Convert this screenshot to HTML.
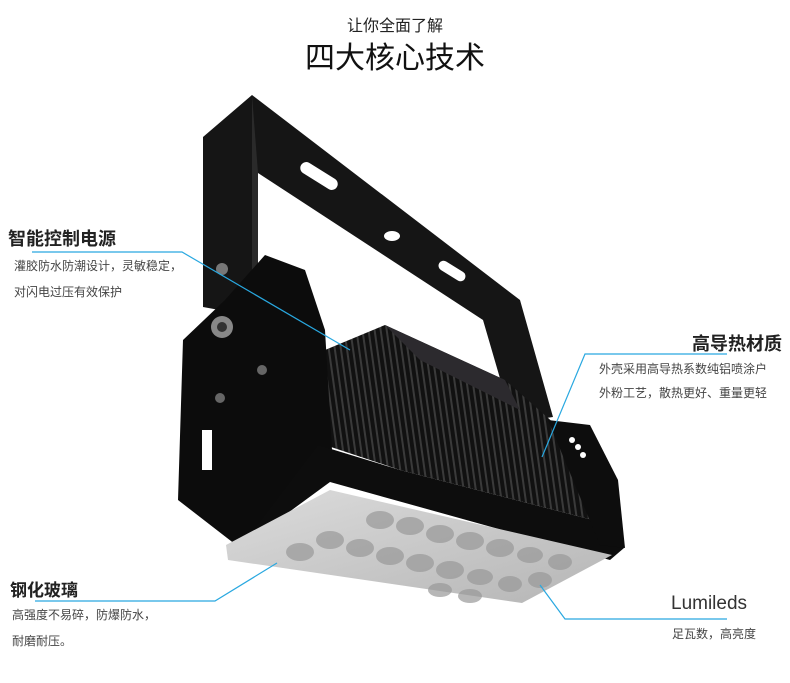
<!DOCTYPE html>
<html><head><meta charset="utf-8"><style>
body{margin:0;background:#fff;}
.wrap{position:relative;width:790px;height:683px;overflow:hidden;font-family:"Liberation Sans","Noto Sans CJK SC",sans-serif;color:#222;}
.t{position:absolute;white-space:nowrap;}
svg{position:absolute;left:0;top:0;}
</style></head><body><div class="wrap">
<svg width="790" height="683" viewBox="0 0 790 683">
<defs>
<pattern id="fins" width="6" height="10" patternUnits="userSpaceOnUse" patternTransform="rotate(-8)">
<rect width="6" height="10" fill="#111"/><rect width="2" height="10" fill="#3a3a3a"/>
</pattern>
<linearGradient id="lens" x1="0" y1="0" x2="1" y2="1"><stop offset="0" stop-color="#dcdcdc"/><stop offset="1" stop-color="#b5b5b5"/></linearGradient>
</defs>
<!-- bracket -->
<polygon points="203,137 252,95 520,300 553,417 513,423 483,320 258,173 258,317 203,307" fill="#151515"/>
<polygon points="252,95 258,173 258,317 252,300" fill="#2a2a2a"/>
<rect x="298" y="170" width="42" height="12" rx="6" transform="rotate(32 319 176)" fill="#fff"/>
<ellipse cx="392" cy="236" rx="8" ry="5" fill="#fff"/>
<rect x="437" y="266" width="30" height="10" rx="5" transform="rotate(32 452 271)" fill="#fff"/>
<!-- heatsink -->
<polygon points="325,350 385,325 505,380 590,455 612,525 400,470 325,445" fill="url(#fins)"/>
<polygon points="385,325 505,380 520,410 420,360" fill="#2c2a2e"/>
<!-- left plate -->
<polygon points="178,500 183,340 225,300 265,255 305,270 325,330 332,450 240,548" fill="#0c0c0c"/>
<!-- housing frame -->
<polygon points="318,445 400,470 612,525 624,548 610,560 330,482 240,548" fill="#0d0d0d"/>
<!-- right plate -->
<polygon points="548,420 590,425 618,480 625,548 600,545" fill="#0d0d0d"/>
<circle cx="572" cy="440" r="3" fill="#fff"/><circle cx="578" cy="447" r="3" fill="#fff"/><circle cx="583" cy="455" r="3" fill="#fff"/>
<!-- knobs -->
<circle cx="222" cy="269" r="6" fill="#777"/>
<circle cx="222" cy="327" r="11" fill="#888"/><circle cx="222" cy="327" r="5" fill="#333"/>
<circle cx="262" cy="370" r="5" fill="#666"/><circle cx="220" cy="398" r="5" fill="#666"/>
<rect x="202" y="430" width="10" height="40" fill="#fff"/>
<!-- lens -->
<polygon points="226,545 330,490 612,555 522,603 228,560" fill="url(#lens)"/>
<g fill="#999" opacity="0.7">
<ellipse cx="380" cy="520" rx="14" ry="9"/><ellipse cx="410" cy="526" rx="14" ry="9"/><ellipse cx="440" cy="534" rx="14" ry="9"/><ellipse cx="470" cy="541" rx="14" ry="9"/><ellipse cx="500" cy="548" rx="14" ry="9"/><ellipse cx="530" cy="555" rx="13" ry="8"/><ellipse cx="560" cy="562" rx="12" ry="8"/>
<ellipse cx="330" cy="540" rx="14" ry="9"/><ellipse cx="360" cy="548" rx="14" ry="9"/><ellipse cx="390" cy="556" rx="14" ry="9"/><ellipse cx="420" cy="563" rx="14" ry="9"/><ellipse cx="450" cy="570" rx="14" ry="9"/><ellipse cx="480" cy="577" rx="13" ry="8"/><ellipse cx="510" cy="584" rx="12" ry="8"/><ellipse cx="540" cy="580" rx="12" ry="8"/>
<ellipse cx="300" cy="552" rx="14" ry="9"/><ellipse cx="440" cy="590" rx="12" ry="7"/><ellipse cx="470" cy="596" rx="12" ry="7"/>
</g>
<!-- connectors -->
<g stroke="#29a8e0" stroke-width="1.2" fill="none">
<polyline points="32,252 182,252 350,350"/>
<polyline points="727,354 585,354 542,457"/>
<polyline points="35,601 215,601 277,563"/>
<polyline points="727,619 565,619 540,585"/>
</g>
</svg>
<div class="t" style="left:0;width:790px;text-align:center;top:12px;font-size:16px;">让你全面了解</div>
<div class="t" style="left:0;width:790px;text-align:center;top:33px;font-size:30px;color:#111;">四大核心技术</div>
<div class="t" style="left:8px;top:225px;font-size:18px;font-weight:bold;">智能控制电源</div>
<div class="t" style="left:14px;top:257px;font-size:12px;color:#444;">灌胶防水防潮设计，灵敏稳定，</div>
<div class="t" style="left:14px;top:283px;font-size:12px;color:#444;">对闪电过压有效保护</div>
<div class="t" style="right:8px;top:330px;font-size:18px;font-weight:bold;">高导热材质</div>
<div class="t" style="left:599px;top:360px;font-size:12px;color:#444;">外壳采用高导热系数纯铝喷涂户</div>
<div class="t" style="left:599px;top:384px;font-size:12px;color:#444;">外粉工艺，散热更好、重量更轻</div>
<div class="t" style="left:10px;top:576px;font-size:17px;font-weight:bold;">钢化玻璃</div>
<div class="t" style="left:12px;top:606px;font-size:12px;color:#444;">高强度不易碎，防爆防水，</div>
<div class="t" style="left:12px;top:632px;font-size:12px;color:#444;">耐磨耐压。</div>
<div class="t" style="left:671px;top:593px;font-size:19px;color:#333;">Lumileds</div>
<div class="t" style="left:672px;top:625px;font-size:12px;color:#444;">足瓦数，高亮度</div>
</div></body></html>
